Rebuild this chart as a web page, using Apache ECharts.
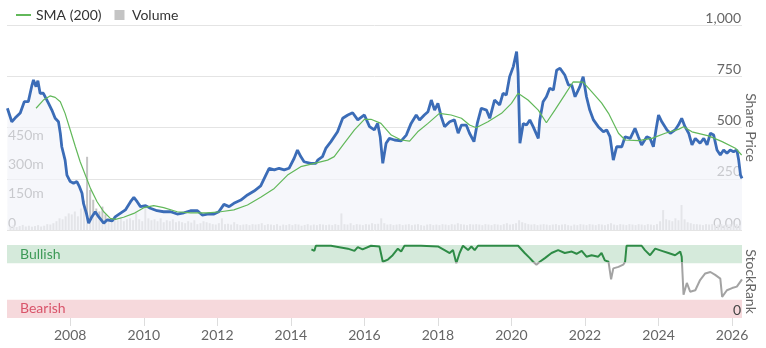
<!DOCTYPE html>
<html><head><meta charset="utf-8">
<script src="https://cdn.jsdelivr.net/npm/echarts@6/dist/echarts.min.js"></script>
<style>html,body{margin:0;padding:0;background:#fff}#c{width:766px;height:348px}</style>
</head><body><div id="c"></div>
<script>
// ---- Data (decimal years) ----
const yearTicks = [2008,2010,2012,2014,2016,2018,2020,2022,2024,2026];
const priceYears = [2006.29,2006.41,2006.50,2006.64,2006.75,2006.86,2006.96,2007.00,2007.07,2007.12,2007.18,2007.27,2007.41,2007.50,2007.59,2007.68,2007.73,2007.77,2007.86,2007.91,2008.00,2008.09,2008.18,2008.25,2008.32,2008.36,2008.44,2008.50,2008.59,2008.68,2008.77,2008.91,2009.00,2009.14,2009.23,2009.36,2009.50,2009.64,2009.73,2009.82,2009.91,2010.05,2010.18,2010.36,2010.54,2010.73,2010.91,2011.09,2011.27,2011.46,2011.59,2011.73,2011.91,2012.04,2012.18,2012.32,2012.45,2012.64,2012.82,2013.00,2013.18,2013.32,2013.41,2013.55,2013.68,2013.82,2013.95,2014.09,2014.18,2014.27,2014.36,2014.54,2014.68,2014.73,2014.86,2014.95,2015.09,2015.27,2015.41,2015.55,2015.68,2015.82,2016.00,2016.14,2016.27,2016.36,2016.43,2016.50,2016.59,2016.68,2016.82,2017.00,2017.14,2017.27,2017.41,2017.50,2017.63,2017.73,2017.82,2017.91,2018.00,2018.09,2018.18,2018.32,2018.45,2018.55,2018.64,2018.77,2018.86,2018.98,2019.07,2019.18,2019.32,2019.41,2019.54,2019.68,2019.77,2019.86,2019.95,2020.05,2020.14,2020.18,2020.23,2020.32,2020.41,2020.50,2020.59,2020.73,2020.77,2020.86,2020.95,2021.04,2021.14,2021.23,2021.32,2021.45,2021.55,2021.64,2021.73,2021.86,2021.95,2022.04,2022.13,2022.23,2022.36,2022.50,2022.59,2022.68,2022.77,2022.86,2023.00,2023.09,2023.23,2023.36,2023.45,2023.54,2023.68,2023.77,2023.86,2023.93,2024.00,2024.09,2024.23,2024.32,2024.45,2024.54,2024.63,2024.72,2024.82,2024.91,2025.00,2025.13,2025.23,2025.32,2025.41,2025.50,2025.59,2025.68,2025.77,2025.86,2025.95,2026.04,2026.13,2026.18,2026.23,2026.27];
const priceValues = [594,528,546,571,626,626,707,732,699,728,667,667,618,585,545,528,472,406,341,268,236,228,236,211,179,130,81,33,65,89,65,33,49,44,65,81,98,138,159,138,114,119,106,94,89,89,78,84,94,94,73,78,78,89,125,114,130,146,171,190,215,268,301,293,301,293,301,350,390,358,333,325,325,341,358,398,431,479,545,561,572,537,561,504,488,520,455,325,423,447,439,435,463,520,561,537,561,577,634,585,618,553,504,528,537,472,512,512,472,431,520,594,585,545,634,610,667,659,748,797,870,764,423,520,512,537,504,447,537,626,650,691,683,780,789,756,707,707,650,699,748,650,585,537,504,479,488,455,341,406,406,455,447,496,455,415,455,447,406,488,561,528,488,472,488,512,545,504,472,415,447,423,447,415,472,463,390,366,390,374,390,382,390,341,268,252];
const smaYears = [2007.07,2007.27,2007.45,2007.59,2007.73,2007.86,2008.00,2008.14,2008.27,2008.41,2008.55,2008.73,2008.91,2009.09,2009.23,2009.45,2009.73,2010.00,2010.27,2010.54,2010.91,2011.27,2011.73,2012.09,2012.45,2012.82,2013.18,2013.55,2013.91,2014.27,2014.64,2015.00,2015.18,2015.45,2015.73,2016.00,2016.18,2016.45,2016.73,2017.00,2017.23,2017.45,2017.73,2018.04,2018.36,2018.64,2018.86,2019.04,2019.36,2019.73,2020.00,2020.18,2020.45,2020.73,2020.95,2021.18,2021.45,2021.68,2021.95,2022.18,2022.45,2022.64,2022.91,2023.09,2023.45,2023.82,2024.18,2024.54,2024.68,2024.91,2025.36,2025.73,2026.09,2026.26];
const smaValues = [594,634,654,647,626,569,488,406,333,268,203,138,89,57,52,62,81,109,119,109,89,84,84,89,98,122,160,203,268,309,325,341,358,423,488,540,540,520,463,439,434,479,520,569,561,545,512,499,528,569,618,667,634,585,523,585,659,723,721,675,620,569,472,439,436,447,472,491,504,479,459,431,399,366];
// monthly volume (millions), Jan..Dec per year
const volumeStartYear = 2006;
const volume2006 = [null,null,null,null,18,24,15,20,26,18,22,17];
const volume2007 = [20,25,18,22,30,28,35,45,60,55,70,85];
const volume2008 = [80,95,70,110,150,375,205,155,110,95,120,80];
const volume2009 = [60,55,70,50,65,45,55,60,50,95,55,45];
const volume2010 = [120,60,50,55,45,60,40,50,45,55,40,45];
const volume2011 = [40,35,45,38,50,30,35,45,40,35,30,28];
const volume2012 = [35,60,30,32,28,40,30,25,28,30,25,30];
const volume2013 = [28,30,35,25,30,28,25,30,22,28,25,30];
const volume2014 = [25,30,28,22,26,30,24,28,25,30,28,25];
const volume2015 = [28,25,30,26,85,30,28,35,25,30,28,25];
const volume2016 = [30,28,35,30,32,60,35,28,30,25,28,30];
const volume2017 = [25,28,30,25,28,30,25,22,28,30,25,28];
const volume2018 = [25,30,28,25,30,28,35,30,28,25,30,28];
const volume2019 = [30,28,25,30,28,25,30,28,25,30,35,28];
const volume2020 = [30,35,50,40,35,30,28,30,25,28,30,28];
const volume2021 = [25,28,30,25,28,30,25,22,28,25,30,28];
const volume2022 = [25,30,28,25,30,28,25,30,35,28,25,30];
const volume2023 = [28,25,30,28,25,30,28,25,30,28,25,30];
const volume2024 = [45,102,55,50,45,60,50,128,55,40,35,30];
const volume2025 = [30,28,25,30,28,30,25,28,30,25,28,30];
const volume2026 = [28,30,25,null,null,null,null,null,null,null,null,null];
const volumeYears = [volume2006,volume2007,volume2008,volume2009,volume2010,volume2011,volume2012,volume2013,volume2014,volume2015,volume2016,volume2017,volume2018,volume2019,volume2020,volume2021,volume2022,volume2023,volume2024,volume2025,volume2026];
const rankYears = [2014.56,2014.64,2014.68,2015.09,2015.55,2015.73,2015.82,2015.95,2016.18,2016.41,2016.50,2016.64,2016.77,2016.91,2017.00,2017.09,2017.54,2018.00,2018.18,2018.32,2018.41,2018.50,2018.59,2018.68,2018.82,2018.91,2019.00,2019.09,2020.18,2020.36,2020.50,2020.59,2020.68,2020.77,2020.91,2021.09,2021.27,2021.45,2021.64,2021.77,2021.91,2022.04,2022.18,2022.36,2022.45,2022.54,2022.64,2022.71,2022.77,2022.91,2023.04,2023.09,2023.13,2023.54,2023.63,2023.77,2023.91,2024.09,2024.27,2024.45,2024.59,2024.63,2024.68,2024.77,2024.86,2025.00,2025.13,2025.27,2025.41,2025.54,2025.68,2025.73,2025.86,2026.00,2026.13,2026.27];
const rankValues = [94,92,99,99,95,92,97,94,99,98,77,80,86,95,91,99,99,98,93,89,93,75,89,99,93,98,93,99,99,89,82,77,73,77,82,89,93,89,91,88,92,84,86,84,89,79,77,53,68,70,73,77,99,99,93,86,95,92,89,86,91,84,32,48,36,38,52,61,63,59,54,29,38,41,43,53];
const bullishFrom = 75, bearishTo = 25, rankMin = 0, rankMax = 100;

const xMin = 2006.28, xMax = 2026.27;
const zip = (a,b) => a.map((v,i)=>[v,b[i]]);
const volumeData = [];
volumeYears.forEach((arr,yi)=>arr.forEach((v,m)=>{ if(v!=null) volumeData.push([volumeStartYear+yi+(m+0.5)/12, v]); }));

// colour split of StockRank line at the bullish threshold (gradient over the line's own value range)
const rMax = Math.max(...rankValues), rMin = Math.min(...rankValues);
const f = (rMax - bullishFrom) / (rMax - rMin);
const rankColor = new echarts.graphic.LinearGradient(0,0,0,1,[
  {offset:0,color:'#2e8b46'},{offset:f,color:'#2e8b46'},{offset:f,color:'#a3a3a3'},{offset:1,color:'#a3a3a3'}]);

const FONT = 'Lato';
const chart = echarts.init(document.getElementById('c'));
chart.setOption({
  animation:false,
  textStyle:{fontFamily:FONT},
  legend:{left:11, top:3, itemWidth:15, itemHeight:10, itemGap:13,
    textStyle:{fontSize:14, color:'#333', fontFamily:FONT},
    data:[{name:'SMA (200)', icon:'path://M0,0H15V2H0Z'},{name:'Volume', icon:'path://M0,0H7V7H0Z'}]},
  grid:[{left:7,right:24,top:25,height:205,outerBoundsMode:'none',containLabel:false},
        {left:7,right:24,top:245,height:73,outerBoundsMode:'none',containLabel:false}],
  xAxis:[
    {type:'value',gridIndex:0,min:xMin,max:xMax,axisLine:{show:false},axisTick:{show:false},axisLabel:{show:false},splitLine:{show:false}},
    {type:'value',gridIndex:1,min:xMin,max:xMax,axisLine:{show:false},
     axisTick:{show:true,length:8,lineStyle:{color:'#ddd'},customValues:yearTicks},
     axisLabel:{customValues:yearTicks,color:'#666',fontSize:14,margin:10,fontFamily:FONT,formatter:v=>String(v)},
     splitLine:{show:false}}
  ],
  yAxis:[
    {type:'value',gridIndex:0,position:'right',min:0,max:1000,interval:250,
     axisLine:{show:false},axisTick:{show:false},
     axisLabel:{inside:true,verticalAlign:'bottom',margin:1,color:'#666',fontSize:14,fontFamily:FONT,
       formatter:v=> v===0?'0.00':(v>=1000?'1,000':String(v))},
     splitLine:{lineStyle:{color:'#e4e4e4'}},
     name:'Share Price',nameLocation:'middle',nameRotate:-90,nameGap:2,nameMoveOverlap:false,
     nameTextStyle:{color:'#666',fontSize:14,fontFamily:FONT}},
    {type:'value',gridIndex:0,position:'left',min:0,max:1050,interval:150,
     axisLine:{show:false},axisTick:{show:false},splitLine:{show:false},
     axisLabel:{inside:true,verticalAlign:'bottom',margin:1,color:'#666',fontSize:14,fontFamily:FONT,
       formatter:v=> v===0?'0':(v<=450?v+'m':'')}},
    {type:'value',gridIndex:1,position:'right',min:rankMin,max:rankMax,interval:25,
     axisLine:{show:false},axisTick:{show:false},splitLine:{show:false},axisLabel:{show:false},
     name:'StockRank',nameLocation:'middle',nameRotate:-90,nameGap:2,nameMoveOverlap:false,
     nameTextStyle:{color:'#666',fontSize:14,fontFamily:FONT}}
  ],
  series:[
    {name:'Price',type:'line',xAxisIndex:0,yAxisIndex:0,data:zip(priceYears,priceValues),showSymbol:false,
     color:'#3b6cb7',lineStyle:{width:2.8,color:'#3b6cb7'},areaStyle:{color:'#f2f4f9'},z:3},
    {name:'SMA (200)',type:'line',xAxisIndex:0,yAxisIndex:0,data:zip(smaYears,smaValues),showSymbol:false,
     color:'#62b85a',lineStyle:{width:1.2,color:'#62b85a'},z:4},
    {name:'Volume',type:'bar',xAxisIndex:0,yAxisIndex:1,data:volumeData,barWidth:2,
     color:'#b5b5b5',itemStyle:{color:'#c4c4c4'},z:2},
    {name:'StockRank',type:'line',xAxisIndex:1,yAxisIndex:2,data:zip(rankYears,rankValues),showSymbol:false,
     lineStyle:{width:2,color:rankColor},z:3,
     markLine:{silent:true,symbol:'none',precision:0,
       lineStyle:{color:'rgba(0,0,0,0)',width:1,type:'solid'},
       label:{show:true,position:'insideEndTop',distance:[1,1],formatter:'0',color:'#444',fontSize:14,fontFamily:FONT},
       data:[{yAxis:rankMin,name:'0'}]},
     markArea:{silent:true,data:[
       [{yAxis:bullishFrom,itemStyle:{color:'#d5eadb'},label:{show:true,position:'insideLeft',distance:13,formatter:'Bullish',color:'#3d9a57',fontSize:14,fontFamily:FONT}},{yAxis:rankMax}],
       [{yAxis:rankMin,itemStyle:{color:'#f6d9dc'},label:{show:true,position:'insideLeft',distance:13,formatter:'Bearish',color:'#d9546a',fontSize:14,fontFamily:FONT}},{yAxis:bearishTo}]
     ]}}
  ]
});
</script></body></html>
